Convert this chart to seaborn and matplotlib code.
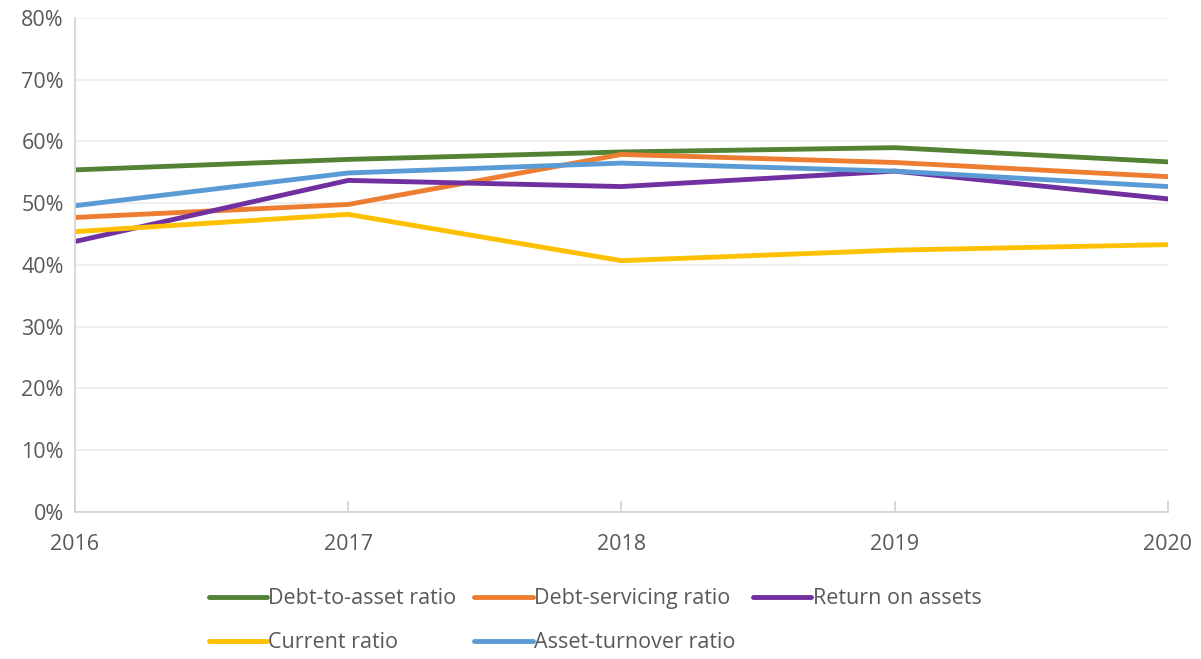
import matplotlib
matplotlib.use("Agg")
import matplotlib.pyplot as plt
import matplotlib.ticker as mticker
import pandas as pd
import seaborn as sns

years = [2016, 2017, 2018, 2019, 2020]
debt_to_asset = [55.4, 57.1, 58.3, 59.0, 56.7]
debt_servicing = [47.7, 49.8, 57.9, 56.6, 54.3]
return_on_assets = [43.8, 53.7, 52.7, 55.2, 50.7]
current_ratio = [45.4, 48.2, 40.7, 42.4, 43.3]
asset_turnover = [49.6, 54.9, 56.5, 55.2, 52.7]

series_names = ["Debt-to-asset ratio", "Debt-servicing ratio", "Return on assets",
                "Current ratio", "Asset-turnover ratio"]
series_values = [debt_to_asset, debt_servicing, return_on_assets,
                 current_ratio, asset_turnover]
colors = ["#548235", "#ED7D31", "#7030A0", "#FFC000", "#5B9BD5"]

rows = []
for name, vals in zip(series_names, series_values):
    for yr, v in zip(years, vals):
        rows.append({"Year": yr, "Value": v / 100.0, "Series": name})
df = pd.DataFrame(rows)

sns.set_theme(style="white")
plt.rcParams["font.family"] = ["Open Sans", "DejaVu Sans"]
text_color = "#595959"
fs = 15.5
lw = 3.5

fig = plt.figure(figsize=(12.01, 6.59), dpi=100)
ax = fig.add_axes([0.0624, 0.2231, 0.9101, 0.7496])

sns.lineplot(data=df, x="Year", y="Value", hue="Series", hue_order=series_names,
             palette=colors, linewidth=lw, ax=ax, legend=False,
             solid_capstyle="round")

ax.set_xlim(2016, 2020)
ax.set_ylim(0, 0.8)
ax.set_xticks(years)
ax.set_xticklabels([str(y) for y in years])
ax.yaxis.set_major_locator(mticker.MultipleLocator(0.1))
ax.yaxis.set_major_formatter(mticker.PercentFormatter(1.0, decimals=0))
ax.grid(axis="y", color="#ebebeb", linewidth=1.2)
ax.set_axisbelow(True)
ax.set_xlabel("")
ax.set_ylabel("")

for side in ["top", "right"]:
    ax.spines[side].set_visible(False)
for side in ["left", "bottom"]:
    ax.spines[side].set_color("#d4d4d4")
    ax.spines[side].set_linewidth(1.3)

ax.tick_params(axis="x", direction="in", length=8, width=1.3, color="#d4d4d4",
               labelsize=fs, labelcolor=text_color, pad=16, bottom=True)
ax.tick_params(axis="y", length=0, labelsize=fs, labelcolor=text_color, pad=8)

handles = [plt.Line2D([], [], color=c, linewidth=lw, solid_capstyle="round") for c in colors]
order = [0, 3, 1, 4, 2]
leg = fig.legend([handles[i] for i in order], [series_names[i] for i in order],
                 ncol=3, loc="center", bbox_to_anchor=(0.4955, 0.058),
                 frameon=False, fontsize=fs, handlelength=2.7, handletextpad=0.05,
                 columnspacing=0.85, labelspacing=1.05)
for t in leg.get_texts():
    t.set_color(text_color)

fig.savefig("out.png", dpi=100)
